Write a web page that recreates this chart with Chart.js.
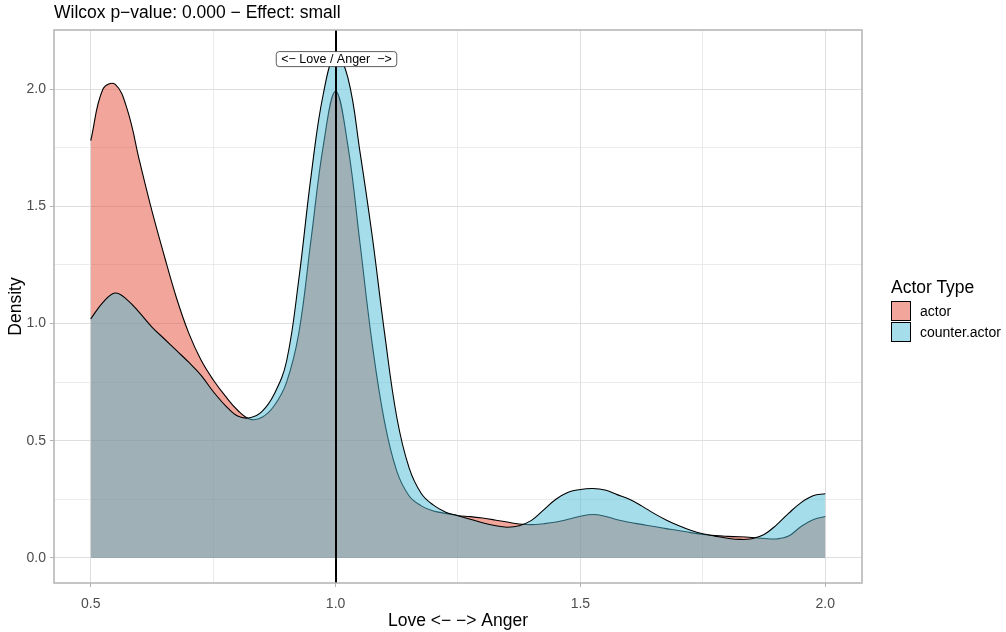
<!DOCTYPE html>
<html>
<head>
<meta charset="utf-8">
<script src="https://cdn.jsdelivr.net/npm/chart.js@4.4.1/dist/chart.umd.min.js"></script>
<style>
  html, body { margin: 0; padding: 0; background: #fff; }
  #wrap { position: relative; width: 1006px; height: 632px; }
  #legend { position: absolute; left: 891px; top: 275px; font-family: "Liberation Sans", Arial, sans-serif; color: #000; }
  #legend .title { font-size: 17.5px; height: 24px; line-height: 24px; margin-bottom: 1px; }
  #legend .item { display: flex; align-items: center; height: 21px; font-size: 14px; }
  #legend .key { width: 20px; height: 20px; box-sizing: border-box; border: 1px solid #000; margin-right: 9px; }
</style>
</head>
<body>
<div id="wrap">
  <canvas id="myChart" width="1006" height="632"></canvas>
  <div id="legend">
    <div class="title">Actor Type</div>
    <div class="item"><div class="key" style="background: rgba(230,75,53,0.5)"></div>actor</div>
    <div class="item"><div class="key" style="background: rgba(77,187,213,0.5)"></div>counter.actor</div>
  </div>
</div>
<script>
// density estimates, x step 0.025
const xValues = [0.5, 0.525, 0.55, 0.575, 0.6, 0.625, 0.65, 0.675, 0.7, 0.725,
  0.75, 0.775, 0.8, 0.825, 0.85, 0.875, 0.9, 0.925, 0.95, 0.975,
  1.0, 1.025, 1.05, 1.075, 1.1, 1.125, 1.15, 1.175, 1.2, 1.225,
  1.25, 1.275, 1.3, 1.325, 1.35, 1.375, 1.4, 1.425, 1.45, 1.475,
  1.5, 1.525, 1.55, 1.575, 1.6, 1.625, 1.65, 1.675, 1.7, 1.725,
  1.75, 1.775, 1.8, 1.825, 1.85, 1.875, 1.9, 1.925, 1.95, 1.975, 2.0]

const actor = [1.78, 2.0, 2.02, 1.91, 1.69, 1.48, 1.29, 1.11, 0.96, 0.845,
  0.76, 0.69, 0.63, 0.592, 0.6, 0.65, 0.75, 0.96, 1.36, 1.76,
  1.99, 1.76, 1.34, 0.91, 0.58, 0.37, 0.265, 0.222, 0.2, 0.19,
  0.18, 0.176, 0.17, 0.162, 0.153, 0.145, 0.142, 0.146, 0.153, 0.165,
  0.178, 0.185, 0.178, 0.163, 0.152, 0.143, 0.134, 0.125, 0.117, 0.108,
  0.1, 0.095, 0.092, 0.09, 0.087, 0.083, 0.081, 0.093, 0.133, 0.163, 0.177]

const counterActor = [1.02, 1.09, 1.13, 1.1, 1.045, 0.985, 0.935, 0.885, 0.835, 0.78,
  0.71, 0.65, 0.605, 0.598, 0.625, 0.7, 0.84, 1.19, 1.63, 1.98,
  2.145, 2.05, 1.73, 1.37, 0.96, 0.6, 0.385, 0.275, 0.225, 0.195,
  0.18, 0.165, 0.15, 0.138, 0.131, 0.137, 0.16, 0.205, 0.25, 0.28,
  0.292, 0.296, 0.29, 0.27, 0.25, 0.222, 0.19, 0.162, 0.138, 0.118,
  0.103, 0.093, 0.084, 0.079, 0.082, 0.1, 0.14, 0.19, 0.235, 0.265, 0.274]

const xTicks = [0.5, 0.75, 1.0, 1.25, 1.5, 1.75, 2.0]
const xLabels = [0.5, 1.0, 1.5, 2.0]
const yTicks = [0, 0.25, 0.5, 0.75, 1.0, 1.25, 1.5, 1.75, 2.0]
const yLabels = [0, 0.5, 1.0, 1.5, 2.0]
const cutPoint = 1.0
const cutLabel = '<\u2212 Love / Anger  \u2212>'
const cutLabelY = 2.13

const FONT = '"Liberation Sans", Arial, sans-serif'
const isMajor = (v, list) => list.some(t => Math.abs(t - v) < 1e-9)

const overlay = {
  id: 'overlay',
  afterDatasetsDraw(chart) {
    const {ctx, chartArea: a, scales: {x, y}} = chart
    ctx.save()
    // vertical cut line
    const px = Math.round(x.getPixelForValue(cutPoint))
    ctx.strokeStyle = '#000'
    ctx.lineWidth = 2
    ctx.beginPath()
    ctx.moveTo(px, a.top)
    ctx.lineTo(px, a.bottom)
    ctx.stroke()
    // label box
    ctx.font = '12.5px ' + FONT
    const w = ctx.measureText(cutLabel).width + 10
    const h = 15
    const cy = y.getPixelForValue(cutLabelY)
    ctx.beginPath()
    ctx.roundRect(px - w / 2 + 0.5, cy - h / 2 + 0.5, w, h, 3)
    ctx.fillStyle = '#fff'
    ctx.fill()
    ctx.strokeStyle = '#333'
    ctx.lineWidth = 0.8
    ctx.stroke()
    ctx.fillStyle = '#000'
    ctx.textAlign = 'center'
    ctx.textBaseline = 'middle'
    ctx.fillText(cutLabel, px + 0.5, cy + 1)
    // panel border
    ctx.strokeStyle = '#B3B3B3'
    ctx.lineWidth = 1.5
    ctx.strokeRect(a.left, a.top, a.right - a.left, a.bottom - a.top)
    ctx.restore()
  }
}

const ctx = document.getElementById('myChart').getContext('2d')
const myChart = new Chart(ctx, {
  type: 'line',
  data: {
    datasets: [{
      label: 'actor',
      data: xValues.map((v, i) => ({x: v, y: actor[i]})),
      backgroundColor: 'rgba(230,75,53,0.5)',
      borderColor: '#000',
      borderWidth: 1.1,
      fill: 'origin',
      order: 2
    }, {
      label: 'counter.actor',
      data: xValues.map((v, i) => ({x: v, y: counterActor[i]})),
      backgroundColor: 'rgba(77,187,213,0.5)',
      borderColor: '#000',
      borderWidth: 1.1,
      fill: 'origin',
      order: 1
    }]
  },
  options: {
    responsive: false,
    animation: false,
    devicePixelRatio: 1,
    layout: {padding: {right: 144, left: 0, top: 0, bottom: 0}},
    elements: {point: {radius: 0}, line: {tension: 0.4}},
    plugins: {
      legend: {display: false},
      tooltip: {enabled: false},
      title: {
        display: true,
        text: 'Wilcox p\u2212value: 0.000 \u2212 Effect: small',
        align: 'start',
        fullSize: false,
        color: '#000',
        font: {family: FONT, size: 17.5, weight: 'normal'},
        padding: {top: 3, bottom: 6}
      }
    },
    scales: {
      x: {
        type: 'linear',
        min: 0.425,
        max: 2.075,
        afterBuildTicks: s => { s.ticks = xTicks.map(v => ({value: v})) },
        afterFit: s => { s.height = 49 },
        ticks: {
          autoSkip: false,
          maxRotation: 0,
          padding: 9,
          color: '#4D4D4D',
          font: {family: FONT, size: 14},
          callback: v => isMajor(v, xLabels) ? v.toFixed(1) : ''
        },
        grid: {
          color: c => isMajor(c.tick.value, xLabels) ? '#DEDEDE' : '#E6E6E6',
          lineWidth: c => isMajor(c.tick.value, xLabels) ? 1 : 0.8,
          tickColor: c => isMajor(c.tick.value, xLabels) ? '#B3B3B3' : 'rgba(0,0,0,0)',
          tickLength: 4
        },
        border: {display: false},
        title: {
          display: true,
          text: 'Love <\u2212 \u2212> Anger',
          color: '#000',
          font: {family: FONT, size: 17.5},
          padding: {top: 0.5, bottom: 0.5}
        }
      },
      y: {
        min: -0.107,
        max: 2.252,
        afterBuildTicks: s => { s.ticks = yTicks.map(v => ({value: v})) },
        afterFit: s => { s.width = 54 },
        ticks: {
          autoSkip: false,
          padding: 4,
          color: '#4D4D4D',
          font: {family: FONT, size: 14},
          callback: v => isMajor(v, yLabels) ? v.toFixed(1) : ''
        },
        grid: {
          color: c => isMajor(c.tick.value, yLabels) ? '#DEDEDE' : '#E6E6E6',
          lineWidth: c => isMajor(c.tick.value, yLabels) ? 1 : 0.8,
          tickColor: c => isMajor(c.tick.value, yLabels) ? '#B3B3B3' : 'rgba(0,0,0,0)',
          tickLength: 4
        },
        border: {display: false},
        title: {
          display: true,
          text: 'Density',
          color: '#000',
          font: {family: FONT, size: 17.5},
          padding: {top: 5.5, bottom: 5.5}
        }
      }
    }
  },
  plugins: [overlay]
})
</script>
</body>
</html>
